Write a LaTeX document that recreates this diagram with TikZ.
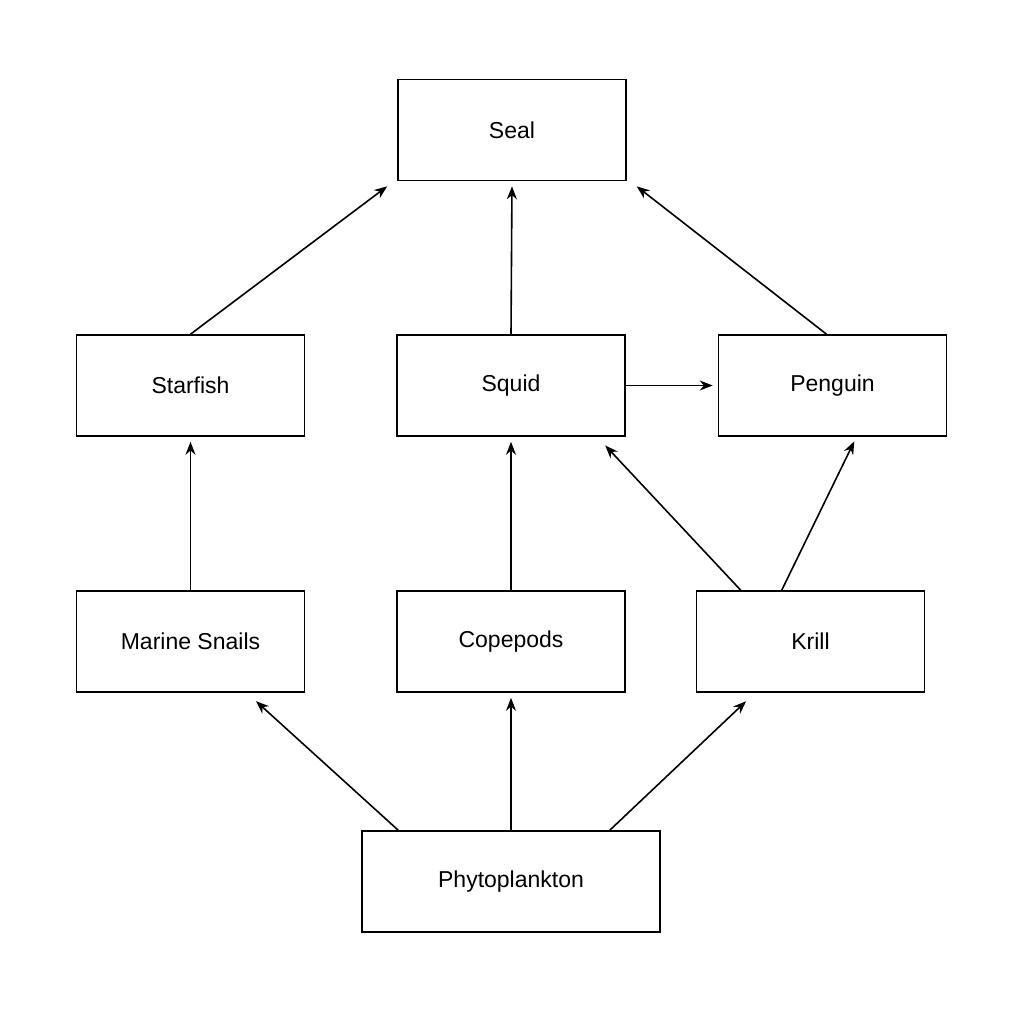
\documentclass[tikz,border=0pt]{standalone}
\usepackage{fontspec}
\setmainfont{Liberation Sans}
\usetikzlibrary{arrows.meta}
\begin{document}
\begin{tikzpicture}[x=1pt,y=-1pt,
  box/.style={draw,line width=1.6pt,minimum width=228pt,minimum height=101pt,inner sep=0pt,font=\fontsize{23}{26}\selectfont},
  arr/.style={line width=1.6pt,-{Stealth[length=13pt,width=10pt]},shorten >=5pt}]
\useasboundingbox (0,0) rectangle (1024,1024);
\fill[white] (0,0) rectangle (1024,1024);
\node[box] (seal) at (512,130) {Seal};
\node[box] (star) at (190.5,385.5) {Starfish};
\node[box] (squid) at (511,385.5) {Squid};
\node[box] (peng) at (832.5,385.5) {Penguin};
\node[box] (snail) at (190.5,641.5) {Marine Snails};
\node[box] (cope) at (511,641.5) {Copepods};
\node[box] (krill) at (810.5,641.5) {Krill};
\node[box,minimum width=298pt] (phyto) at (511,881.5) {Phytoplankton};
\draw[arr] (star.north) -- ([shift={(-6,2)}]seal.south west);
\draw[arr] (squid.north) -- (seal.south);
\draw[arr] ([xshift=-6]peng.north) -- ([shift={(6,2)}]seal.south east);
\draw[arr] (squid.east) -- (peng.west);
\draw[arr] ([xshift=45]krill.north west) -- ([shift={(-24,5)}]squid.south east);
\draw[arr] ([xshift=86]krill.north west) -- ([xshift=24]peng.south);
\draw[arr] (snail.north) -- (star.south);
\draw[arr] (cope.north) -- (squid.south);
\draw[arr] ([xshift=37]phyto.north west) -- ([shift={(-53,5)}]snail.south east);
\draw[arr] (phyto.north) -- (cope.south);
\draw[arr] ([xshift=-51]phyto.north east) -- ([shift={(54,5)}]krill.south west);
\end{tikzpicture}
\end{document}
